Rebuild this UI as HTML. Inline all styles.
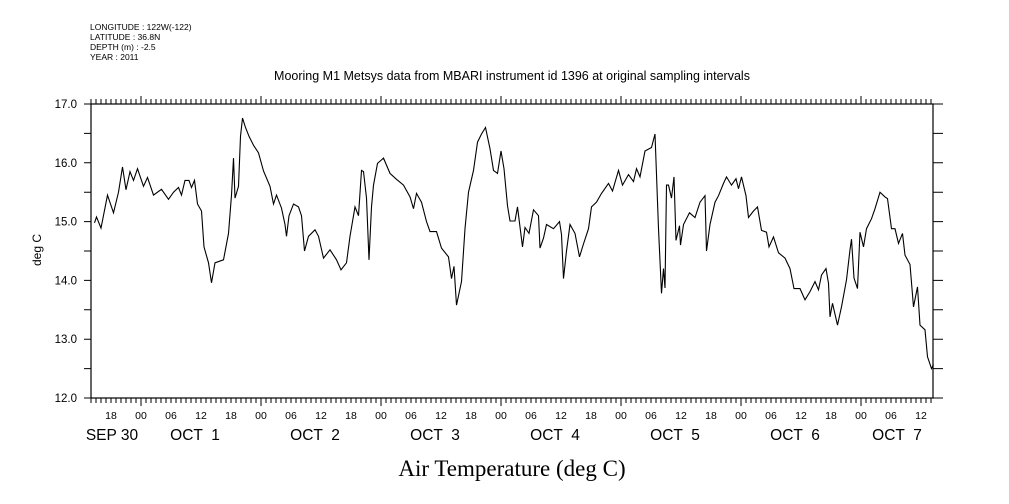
<!DOCTYPE html>
<html><head><meta charset="utf-8"><style>
html,body{margin:0;padding:0;background:#fff;}
svg{display:block;font-family:"Liberation Sans",sans-serif;}
</style></head><body>
<svg id="chart" width="1009" height="504" viewBox="0 0 1009 504">
<g font-size="8.5" fill="#000">
<text x="90" y="30">LONGITUDE : 122W(-122)</text>
<text x="90" y="40">LATITUDE : 36.8N</text>
<text x="90" y="50">DEPTH (m) : -2.5</text>
<text x="90" y="60">YEAR : 2011</text>
</g>
<text x="512" y="80" text-anchor="middle" font-size="12.5">Mooring M1 Metsys data from MBARI instrument id 1396 at original sampling intervals</text>
<g id="axes"></g>
<text transform="translate(41,250) rotate(-90)" text-anchor="middle" font-size="12">deg C</text>
<text x="512" y="476" text-anchor="middle" font-family="Liberation Serif,serif" font-size="23">Air Temperature (deg C)</text>
<path id="series" fill="none" stroke="#000" stroke-width="1.1"/>
</svg>
<script>
// hours since 2011-09-30 00:00
const hours = [14.7,15.1,16,17.3,18.5,19.5,20.3,21,21.8,22.5,23.3,24.5,25.3,26.5,28.1,29.5,30.5,31.5,32.1,32.8,33.6,34.1,34.7,35.3,36.1,36.6,37.5,38.1,38.8,40.5,41.5,42.1,42.5,42.8,43.5,43.9,44.3,44.9,45.6,46.5,47.5,48.5,49.8,50.5,51.1,52.1,52.8,53.1,53.6,54.5,55.5,56.1,56.7,57.5,58.8,59.5,60.5,61.8,63.1,64,65.1,65.8,66.8,67.5,68.1,68.5,69.1,69.6,70.1,70.5,71.3,72.5,73.8,75.1,76.5,77.8,78.5,79.1,80.1,81.1,81.8,83.1,84.1,85.5,86.1,86.6,87.1,88.1,88.8,89.5,90.5,91.3,92.1,92.9,93.8,94.5,95.3,96,96.6,97.3,97.8,98.8,99.3,100.3,100.8,101.6,102.5,103.5,103.8,104.5,105.1,106.5,107.7,108.1,108.5,109.1,109.8,110.8,111.7,112.5,113.5,114.1,115.1,116.1,117.5,118.3,119.5,120.3,121.5,122.5,123.1,123.8,124.8,126.1,126.8,127.5,128.1,128.5,128.8,129.1,129.5,130.1,130.6,131,131.7,131.9,132.5,133.7,134.8,135.8,136.8,137.1,137.8,138.8,139.5,140.5,141.1,142.1,143,143.5,144.1,145,145.5,146.5,147.3,148.1,149.1,149.6,150.5,151.5,152.8,153.8,154.6,155.8,156.8,157.8,158.8,159.5,160.1,161,161.5,161.8,162.3,163.3,164.1,165.1,165.8,166.1,166.6,167.3,167.8,168.5,169.1,170.1,170.8,171.8,172.8,173.3,174.1,174.8,175.5,176.3,176.8,177.8,178.5,179.3,179.8,180.8,181.3,182.1,182.5];
const temps = [14.98,15.08,14.89,15.45,15.15,15.5,15.93,15.54,15.85,15.7,15.9,15.6,15.75,15.45,15.55,15.38,15.5,15.58,15.45,15.7,15.7,15.58,15.7,15.3,15.18,14.57,14.3,13.96,14.3,14.35,14.8,15.45,16.08,15.4,15.6,16.45,16.76,16.6,16.45,16.3,16.17,15.86,15.6,15.3,15.45,15.23,14.95,14.75,15.1,15.3,15.25,15.1,14.5,14.75,14.86,14.75,14.38,14.52,14.35,14.18,14.3,14.75,15.25,15.1,15.87,15.85,15.4,14.35,15.25,15.62,15.99,16.08,15.82,15.72,15.62,15.42,15.22,15.48,15.33,15.0,14.83,14.83,14.55,14.4,14.03,14.24,13.58,13.98,14.88,15.5,15.87,16.35,16.49,16.6,16.24,15.87,15.82,16.2,15.9,15.27,15.01,15.01,15.25,14.57,14.9,14.8,15.2,15.1,14.55,14.72,14.95,14.88,15.0,14.78,14.03,14.5,14.95,14.8,14.4,14.62,14.88,15.25,15.33,15.48,15.65,15.52,15.87,15.62,15.8,15.68,15.9,15.76,16.2,16.26,16.49,14.88,13.78,14.2,13.87,15.62,15.62,15.4,15.76,14.68,14.93,14.6,14.95,15.15,15.07,15.33,15.44,14.5,14.95,15.33,15.44,15.65,15.76,15.62,15.73,15.56,15.76,15.44,15.07,15.18,15.25,14.85,14.82,14.57,14.74,14.47,14.38,14.2,13.86,13.86,13.67,13.81,13.98,13.84,14.09,14.2,13.95,13.38,13.61,13.24,13.55,14.01,14.52,14.7,14.04,13.86,14.82,14.57,14.88,15.05,15.22,15.5,15.42,15.39,14.88,14.88,14.63,14.8,14.43,14.27,13.55,13.89,13.24,13.16,12.7,12.5,12.57];
const yTicks = ["12.0","12.5","13.0","13.5","14.0","14.5","15.0","15.5","16.0","16.5","17.0"];
const yLabels = ["12.0","13.0","14.0","15.0","16.0","17.0"];
const hourLabels = ["18","00","06","12"];
const dateLabels = ["SEP 30","OCT  1","OCT  2","OCT  3","OCT  4","OCT  5","OCT  6","OCT  7"];

const L=91,R=933,T=104,B=398,H0=14,H1=182.4,Y0=12,Y1=17;
const X=h=>L+(h-H0)*(R-L)/(H1-H0);
const Y=v=>B-(v-Y0)*(B-T)/(Y1-Y0);
const NS="http://www.w3.org/2000/svg";
const ax=document.getElementById('axes');
function mk(tag,attrs,parent){const e=document.createElementNS(NS,tag);for(const k in attrs)e.setAttribute(k,attrs[k]);(parent||ax).appendChild(e);return e;}
const frame=mk('rect',{x:L,y:T,width:R-L,height:B-T,fill:'none',stroke:'#000','stroke-width':1.2});


let d='';
for(let h=Math.ceil(H0);h<=H1;h++){const x=X(h).toFixed(1);const len=(h%24===0)?8:5;d+=`M${x} ${T}V${T-len}M${x} ${B}V${B+len}`;}
yTicks.forEach(t=>{const y=Y(parseFloat(t)).toFixed(1);d+=`M${L} ${y}H${L-7}M${R} ${y}H${R+10}`;});
const tk=mk('path',{d:d,stroke:'#000','stroke-width':1,fill:'none'});


yLabels.forEach(t=>{const e=mk('text',{x:77,y:Y(parseFloat(t))+4,'text-anchor':'end','font-size':11.5});e.textContent=t;

});
let i=0;
for(let h=18;h<=H1;h+=6){const e=mk('text',{x:X(h),y:419,'text-anchor':'middle','font-size':10.5});e.textContent=hourLabels[i%4];i++;

}
dateLabels.forEach((t,k)=>{let cx;if(k===0)cx=112;else if(k===7)cx=X(k*24+12)-24;else cx=X(k*24+12)-6;const e=mk('text',{x:cx,y:440,'text-anchor':'middle','font-size':15.5});e.style.whiteSpace='pre';e.textContent=t;

});
document.getElementById('series').setAttribute('d',hours.map((h,k)=>(k?'L':'M')+X(h).toFixed(1)+' '+Y(temps[k]).toFixed(1)).join(''));
</script>
</body></html>
